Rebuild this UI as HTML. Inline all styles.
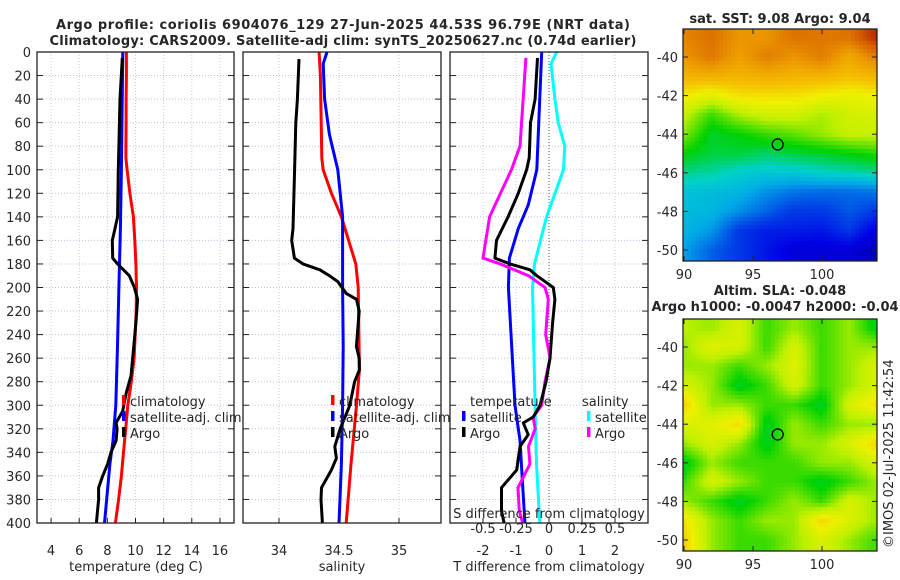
<!DOCTYPE html>
<html><head><meta charset="utf-8"><style>
html,body{margin:0;padding:0;background:#fff;width:900px;height:580px;overflow:hidden}
svg text{font-family:"DejaVu Sans","Liberation Sans",sans-serif;fill:#262626}
</style></head><body>
<svg id="c" width="900" height="580" xmlns="http://www.w3.org/2000/svg"></svg>
<script>
// ---- data ----
const tClimD=[0,20,40,60,80,90,100,120,140,160,180,200,220,240,260,280,300,320,340,360,380,400];
const tClimV=[9.35,9.35,9.33,9.33,9.32,9.32,9.4,9.6,9.85,9.95,10.03,10.07,10.05,9.98,9.9,9.7,9.45,9.3,9.15,9.0,8.8,8.57];
const tSatD=[0,50,100,150,200,250,300,330,350,400];
const tSatV=[9.1,9.05,9.0,8.93,8.82,8.72,8.6,8.4,8.18,7.8];
const tArgoD=[5,40,100,140,150,160,175,180,190,200,210,230,260,275,290,305,315,320,330,340,350,360,370,380,400];
const tArgoV=[9.06,8.9,8.78,8.73,8.54,8.35,8.38,8.73,9.56,9.92,10.15,10.03,9.8,9.68,9.33,9.09,8.62,8.69,8.62,8.26,8.02,7.67,7.38,7.38,7.22];
const sClimD=[0,20,90,100,120,140,180,200,270,300,350,400];
const sClimV=[34.334,34.345,34.357,34.368,34.437,34.52,34.64,34.66,34.67,34.646,34.6,34.56];
const sSatD=[0,10,40,70,100,140,200,250,300,350,400];
const sSatV=[34.40,34.368,34.38,34.42,34.49,34.53,34.53,34.535,34.53,34.52,34.50];
const sArgoD=[6,40,60,100,150,160,175,180,185,190,195,205,210,220,250,260,270,280,290,300,310,320,335,345,355,370,380,400];
const sArgoV=[34.167,34.153,34.14,34.13,34.117,34.106,34.128,34.2,34.34,34.42,34.49,34.56,34.646,34.668,34.645,34.668,34.67,34.63,34.61,34.59,34.55,34.51,34.465,34.478,34.437,34.354,34.35,34.362];
const dTSatD=[0,100,130,150,175,200,300,330,400];
const dTSatV=[-0.22,-0.37,-0.63,-0.93,-1.2,-1.23,-1.03,-0.88,-0.73];
const dTArgoD=[5,40,60,90,100,120,140,160,175,180,185,190,200,210,230,260,280,300,310,315,325,335,355,370,390,400];
const dTArgoV=[-0.35,-0.42,-0.56,-0.6,-0.68,-0.93,-1.24,-1.59,-1.64,-1.18,-0.58,-0.37,0.13,0.18,0.11,0.03,-0.09,-0.27,-0.48,-0.78,-0.63,-0.88,-0.98,-1.44,-1.44,-1.36];
const dSSatD=[0,10,40,60,80,100,140,180,200,300,350,400];
const dSSatV=[0.058,0.015,0.045,0.07,0.12,0.11,-0.018,-0.11,-0.125,-0.105,-0.095,-0.07];
const dSArgoD=[5,80,100,140,175,180,190,200,210,240,260,280,300,310,320,335,350,370,390,400];
const dSArgoV=[-0.175,-0.22,-0.285,-0.45,-0.5,-0.37,-0.155,-0.03,-0.005,-0.025,0.008,-0.03,-0.055,-0.12,-0.105,-0.155,-0.145,-0.235,-0.225,-0.2];
const depthTicks=[0,20,40,60,80,100,120,140,160,180,200,220,240,260,280,300,320,340,360,380,400];
const tTicks=[4,6,8,10,12,14,16];
const sTicks=[34,34.5,35];
const sTickLbl=["34","34.5","35"];
const dTTicks=[-2,-1,0,1,2];
const dSTicks=[-0.5,-0.25,0,0.25,0.5];
const latTicks=[-40,-42,-44,-46,-48,-50];
const lonTicks=[90,95,100];
const sstGrid=[
[8.3,8.6,8.0,8.0,8.6,8.5,8.6,9.6],[8.0,8.5,7.8,8.4,8.0,8.4,7.6,8.4],[7.4,7.5,7.4,7.5,7.4,7.4,7.2,7.4],
[6.7,6.4,6.8,6.8,6.8,6.6,6.5,6.6],[6.1,5.3,5.9,6.2,6.2,5.9,6.2,6.3],[5.7,4.8,5,5.3,5.5,5.8,6.1,6.1],
[5,4.7,4.7,4.5,4.7,4.8,5,5.2],[4.3,4.2,3.9,3.8,3.8,4,4.1,4.3],[3.7,3.6,3.5,3,2.7,2.6,2.6,2.7],
[3.6,3.5,3,2.5,2,2,2.4,2],[3.5,3.1,2,1.6,1.6,1.5,2,1],[3.2,2.5,2,1.5,1,1,1,0.6]];
const slaGrid=[
[6.0,5.8,6.3,5.3,5.8,5.3,5.8,4.8],[5.8,6.4,6.3,5.3,6.3,5.3,5.8,5.8],[5.8,5.8,5.3,5.8,6.4,5.3,5.8,6.3],
[6.3,5.8,4.8,5.3,6.3,5.3,5.8,6.3],[7.0,5.8,5.8,5.3,5.3,4.8,6.3,6.8],[6.3,6.4,6.9,4.8,5.8,5.3,5.8,5.8],
[5.8,6.3,5.8,4.8,5.8,5.8,6.3,7.0],[4.8,5.8,5.3,5.3,5.3,5.8,5.8,6.3],[5.3,6.3,5.8,5.3,5.3,4.8,5.3,5.8],
[5.8,5.3,4.8,5.3,5.8,5.3,6.3,5.8],[6.8,5.8,5.3,5.8,5.8,6.9,6.3,5.8],[7.0,5.8,5.3,5.3,5.8,6.3,5.8,5.3]];
const argoLon=96.79, argoLat=-44.53;

const NS="http://www.w3.org/2000/svg";
const svg=document.getElementById('c');
function el(t,a,p){const e=document.createElementNS(NS,t);for(const k in a)e.setAttribute(k,a[k]);(p||svg).appendChild(e);return e;}
function txt(x,y,s,a,p){const e=el('text',Object.assign({x:x,y:y,'font-size':13},a||{}),p);e.textContent=s;return e;}
const Y0=52,Y1=523;
const yD=d=>Y0+d*(Y1-Y0)/400;

function panel(name,x0,x1,xmin,xmax){
  const g=el('g',{});
  
  
  const sx=v=>x0+(v-xmin)*(x1-x0)/(xmax-xmin);
  return {g,sx};
}
function grid(p,x0,x1,xt){
  depthTicks.forEach(d=>{el('line',{x1:x0,x2:x1,y1:yD(d),y2:yD(d),stroke:'#b8c4e6','stroke-width':1,'stroke-dasharray':'1,2'},p.g);});
  xt.forEach(v=>{el('line',{x1:p.sx(v),x2:p.sx(v),y1:Y0,y2:Y1,stroke:'#c8c8e8','stroke-width':1,'stroke-dasharray':'1,2'},p.g);});
}
function frame(p,x0,x1,xt){
  el('rect',{x:x0,y:Y0,width:x1-x0,height:Y1-Y0,fill:'none',stroke:'#222','stroke-width':1.3},p.g);
  depthTicks.forEach(d=>{el('line',{x1:x0,x2:x0+6,y1:yD(d),y2:yD(d),stroke:'#222'},p.g);el('line',{x1:x1-6,x2:x1,y1:yD(d),y2:yD(d),stroke:'#222'},p.g);});
  xt.forEach(v=>{el('line',{x1:p.sx(v),x2:p.sx(v),y1:Y1-5,y2:Y1,stroke:'#222'},p.g);});
}
function line(p,D,V,color,name,f){
  const pts=D.map((d,i)=>(f?f(V[i]):p.sx(V[i])).toFixed(1)+','+yD(d).toFixed(1)).join(' ');
  const e=el('polyline',{points:pts,fill:'none',stroke:color,'stroke-width':3,'stroke-linejoin':'round'},p.g);
  
  
}
function legend(p,x,y,color,label,name){
  const g=el('g',{},p.g);
  
  
  el('rect',{x:x,y:y-11,width:3.5,height:10,fill:color},g);
  txt(x+8,y,label,{},g);
}

const t1=txt(343,29,'Argo profile: coriolis 6904076_129 27-Jun-2025 44.53S 96.79E (NRT data)',{'font-weight':'bold','text-anchor':'middle',textLength:574,fill:'#000'});
 
const t2=txt(343,45,'Climatology: CARS2009. Satellite-adj clim: synTS_20250627.nc (0.74d earlier)',{'font-weight':'bold','text-anchor':'middle',textLength:587,fill:'#000'});
 

let P=panel('temperature-panel',37,234,3,17);
grid(P,37,234,tTicks);
line(P,tClimD,tClimV,'#ff0000','temp-climatology-line');
line(P,tSatD,tSatV,'#0000ff','temp-satellite-line');
line(P,tArgoD,tArgoV,'#000','temp-argo-line');
frame(P,37,234,tTicks);
depthTicks.forEach(d=>{const e=txt(31,yD(d)+5,String(d),{'text-anchor':'end'});});
tTicks.forEach(v=>txt(P.sx(v),555,String(v),{'text-anchor':'middle'},P.g));
txt(136,571,'temperature (deg C)',{'text-anchor':'middle'},P.g);
legend(P,122,406,'#ff0000','climatology','legend-climatology');
legend(P,122,422,'#0000ff','satellite-adj. clim','legend-satellite');
legend(P,122,438,'#000','Argo','legend-argo');

P=panel('salinity-panel',243,441,33.7,35.35);
grid(P,243,441,sTicks);
line(P,sClimD,sClimV,'#ff0000','sal-climatology-line');
line(P,sSatD,sSatV,'#0000ff','sal-satellite-line');
line(P,sArgoD,sArgoV,'#000','sal-argo-line');
frame(P,243,441,sTicks);
sTicks.forEach((v,i)=>txt(P.sx(v),555,sTickLbl[i],{'text-anchor':'middle'},P.g));
txt(342,571,'salinity',{'text-anchor':'middle'},P.g);
legend(P,331,406,'#ff0000','climatology','legend-climatology-sal');
legend(P,331,422,'#0000ff','satellite-adj. clim','legend-satellite-sal');
legend(P,331,438,'#000','Argo','legend-argo-sal');

P=panel('difference-panel',450,648,-3,3);
const sxS=v=>P.sx(v*4);
grid(P,450,648,dTTicks);
el('line',{x1:P.sx(0),x2:P.sx(0),y1:Y0,y2:Y1,stroke:'#555','stroke-dasharray':'1,2'},P.g);
line(P,dSSatD,dSSatV,'#00ffff','sdiff-satellite-line',sxS);
line(P,dTSatD,dTSatV,'#0000ff','tdiff-satellite-line');
line(P,dSArgoD,dSArgoV,'#ff00ff','sdiff-argo-line',sxS);
line(P,dTArgoD,dTArgoV,'#000','tdiff-argo-line');
frame(P,450,648,dTTicks);
dTTicks.forEach(v=>txt(P.sx(v),555,String(v),{'text-anchor':'middle'},P.g));
txt(549,571,'T difference from climatology',{'text-anchor':'middle'},P.g);
txt(549,518,'S difference from climatology',{'text-anchor':'middle'},P.g);
dSTicks.forEach(v=>txt(sxS(v),533,String(v),{'text-anchor':'middle'},P.g));
txt(470,406,'temperature',{},P.g);
legend(P,462,422,'#0000ff','satellite','legend-t-satellite');
legend(P,462,438,'#000','Argo','legend-t-argo');
txt(582,406,'salinity',{},P.g);
legend(P,587,422,'#00ffff','satellite','legend-s-satellite');
legend(P,587,438,'#ff00ff','Argo','legend-s-argo');

const cmI=[0,1.2,2.2,3.3,4.0,5.0,6.0,6.6,7.2,8.0,9.0,10];
const cmC=[[0,0,140],[0,0,230],[0,70,230],[0,170,230],[0,210,200],[0,210,0],[190,240,0],[240,240,0],[245,190,0],[235,150,0],[210,90,0],[160,0,0]];
function cmap(v){v=Math.max(0,Math.min(10,v));let i=0;while(i<cmI.length-2&&v>cmI[i+1])i++;
  const t=(v-cmI[i])/(cmI[i+1]-cmI[i]);const a=cmC[i],b=cmC[i+1];
  return `rgb(${Math.round(a[0]+(b[0]-a[0])*t)},${Math.round(a[1]+(b[1]-a[1])*t)},${Math.round(a[2]+(b[2]-a[2])*t)})`;}
function map(name,top,bot,gridV,yLat40,yLat50){
  const g=el('g',{});
  
  
  const X0=683,X1=877;
  const sx=l=>684+(l-90)*13.8;
  const sy=la=>yLat40+(la+40)*(yLat40-yLat50)/10;
  const cs=4;
  for(let y=top;y<bot;y+=cs){for(let x=X0;x<X1;x+=cs){
    const lon=90+(x+cs/2-684)/13.8, lat=-40+(y+cs/2-yLat40)*(-10)/(yLat50-yLat40);
    let fc=(lon-90)/2, fr=(-39-lat);fc=Math.max(0,Math.min(6.999,fc));fr=Math.max(0,Math.min(10.999,fr));
    const c=Math.floor(fc),r=Math.floor(fr),a=fc-c,b=fr-r;
    const v=gridV[r][c]*(1-a)*(1-b)+gridV[r][c+1]*a*(1-b)+gridV[r+1][c]*(1-a)*b+gridV[r+1][c+1]*a*b;
    el('rect',{x:x,y:y,width:Math.min(cs,X1-x)+0.3,height:Math.min(cs,bot-y)+0.3,fill:cmap(v)},g);
  }}
  el('rect',{x:X0,y:top,width:X1-X0,height:bot-top,fill:'none',stroke:'#222','stroke-width':1.3},g);
  latTicks.forEach(la=>{const y=sy(la);el('line',{x1:X0,x2:X0+5,y1:y,y2:y,stroke:'#222'},g);el('line',{x1:X1-5,x2:X1,y1:y,y2:y,stroke:'#222'},g);txt(678,y+5,String(la),{'text-anchor':'end'},g);});
  lonTicks.forEach(l=>{el('line',{x1:sx(l),x2:sx(l),y1:bot-5,y2:bot,stroke:'#222'},g);el('line',{x1:sx(l),x2:sx(l),y1:top,y2:top+5,stroke:'#222'},g);txt(sx(l),bot+18,String(l),{'text-anchor':'middle'},g);});
  const m=el('circle',{cx:sx(argoLon),cy:sy(argoLat),r:5.5,fill:'none',stroke:'#000','stroke-width':1.3},g);
  
  
}
map('sst-map',29,261,sstGrid,57,250);
map('sla-map',319,551,slaGrid,347,540);
let e=txt(780,23,'sat. SST: 9.08  Argo: 9.04',{'font-weight':'bold','text-anchor':'middle',fill:'#000'});

e=txt(780,295,'Altim. SLA: -0.048',{'font-weight':'bold','text-anchor':'middle',fill:'#000'});

e=txt(775,311,'Argo h1000: -0.0047 h2000: -0.04',{'font-weight':'bold','text-anchor':'middle',fill:'#000'});

e=txt(0,0,'©IMOS 02-Jul-2025 11:42:54',{'font-size':13,transform:'translate(893,548) rotate(-90)'});

</script>
</body></html>
